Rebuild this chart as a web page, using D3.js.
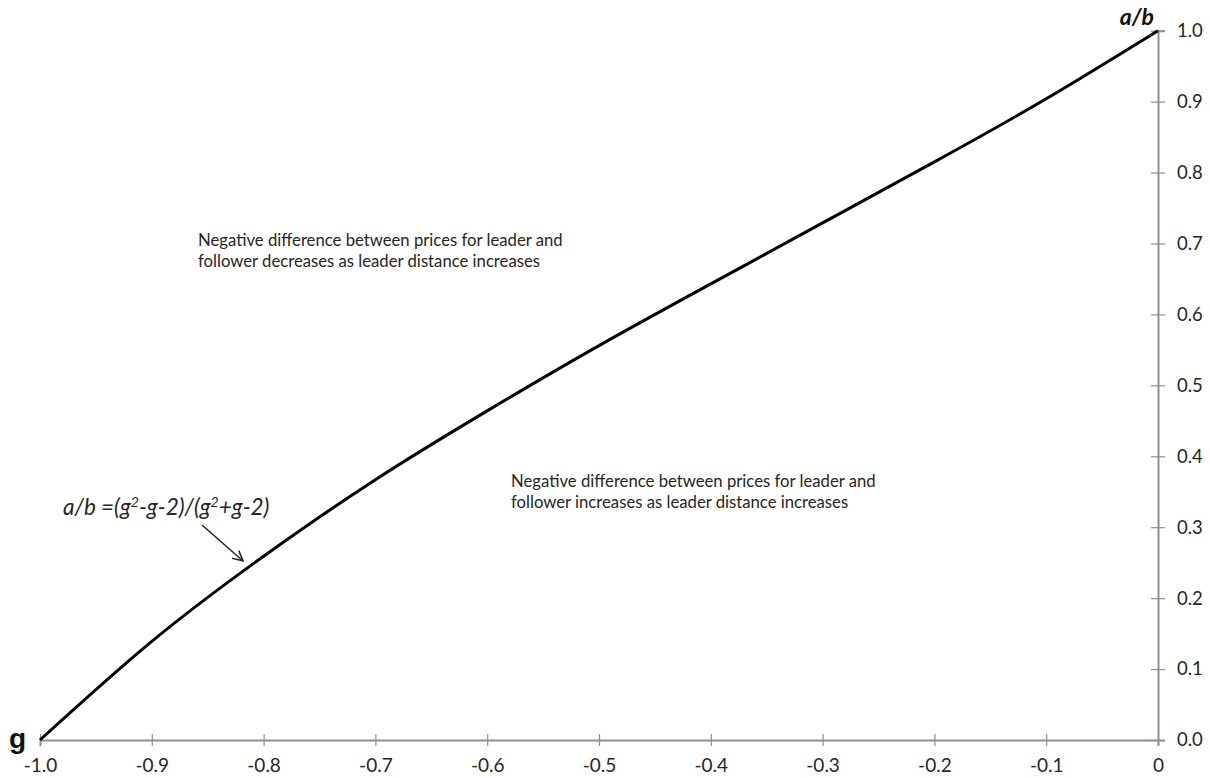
<!DOCTYPE html>
<html>
<head>
<meta charset="utf-8">
<script src="https://cdn.jsdelivr.net/npm/d3@7"></script>
<style>
  body { margin: 0; background: #fff; }
  svg { display: block; font-family: Lato, "Open Sans", sans-serif; }
</style>
</head>
<body>
<div id="chart"></div>
<script>
// values
const gValues = [-1.0, -0.9, -0.8, -0.7, -0.6, -0.5, -0.4, -0.3, -0.2, -0.1, 0];
const abValues = [0, 0.139, 0.259, 0.367, 0.464, 0.556, 0.643, 0.729, 0.815, 0.904, 1.0];
const xTicks = [-1.0, -0.9, -0.8, -0.7, -0.6, -0.5, -0.4, -0.3, -0.2, -0.1, 0];
const yTicks = [0, 0.1, 0.2, 0.3, 0.4, 0.5, 0.6, 0.7, 0.8, 0.9, 1.0];
const noteTop = ["Negative difference between prices for leader and", "follower decreases as leader distance increases"];
const noteBottom = ["Negative difference between prices for leader and", "follower increases as leader distance increases"];

const width = 1210, height = 778;
const data = gValues.map((g, i) => ({ g: g, ab: abValues[i] }));

const svg = d3.select("#chart").append("svg")
    .attr("width", width)
    .attr("height", height);

const x = d3.scaleLinear().domain([-1, 0]).range([40, 1158]);
const y = d3.scaleLinear().domain([0, 1]).range([740, 30.7]);

const axisColor = "#8f8f8f";
const textColor = "#262626";

// x axis
svg.append("g")
    .attr("transform", `translate(0,${y(0)})`)
    .call(d3.axisBottom(x).tickValues(xTicks).tickSize(6).tickPadding(13)
        .tickFormat(d => d === 0 ? "0" : d.toFixed(1)))
    .call(g => g.select(".domain").attr("stroke", axisColor).attr("stroke-width", 2))
    .call(g => g.selectAll(".tick line").attr("stroke", axisColor).attr("stroke-width", 1.2).attr("y1", -6).attr("y2", 6))
    .call(g => g.selectAll(".tick text").attr("fill", textColor).attr("font-size", 19).attr("font-family", "Lato, sans-serif"));

// y axis on the right
svg.append("g")
    .attr("transform", `translate(${x(0)},0)`)
    .call(d3.axisRight(y).tickValues(yTicks).tickSize(7).tickPadding(12)
        .tickFormat(d => d.toFixed(1)))
    .call(g => g.select(".domain").attr("stroke", axisColor).attr("stroke-width", 2))
    .call(g => g.selectAll(".tick line").attr("stroke", axisColor).attr("stroke-width", 1.2).attr("x1", -7).attr("x2", 7))
    .call(g => g.selectAll(".tick text").attr("fill", textColor).attr("font-size", 18.5).attr("font-family", "Lato, sans-serif"));

// the curve
const line = d3.line()
    .x(d => x(d.g))
    .y(d => y(d.ab))
    .curve(d3.curveNatural);

svg.append("path")
    .datum(data)
    .attr("fill", "none")
    .attr("stroke", "#000")
    .attr("stroke-width", 3)
    .attr("d", line);

// axis names
svg.append("text")
    .attr("x", 9).attr("y", 748)
    .attr("font-size", 28).attr("font-weight", "bold")
    .attr("font-family", "'Liberation Sans', sans-serif")
    .attr("fill", "#111")
    .text("g");

svg.append("text")
    .attr("x", x(0) - 4).attr("y", 25)
    .attr("text-anchor", "end")
    .attr("font-size", 23).attr("font-weight", "bold").attr("font-style", "italic")
    .attr("fill", "#111")
    .text("a/b");

// notes
function note(lines, left, top) {
    const t = svg.append("text")
        .attr("x", left).attr("y", top)
        .attr("font-size", 16.7)
        .attr("fill", textColor);
    lines.forEach((s, i) => t.append("tspan").attr("x", left).attr("dy", i === 0 ? 0 : 21).text(s));
}
note(noteTop, 198, 246);
note(noteBottom, 511, 487);

// formula label with arrow
const f = svg.append("text")
    .attr("x", 63).attr("y", 515)
    .attr("font-size", 22.5).attr("font-style", "italic")
    .attr("fill", textColor);
f.append("tspan").text("a/b =(g");
f.append("tspan").attr("font-size", 14).attr("dy", -8).text("2");
f.append("tspan").attr("dy", 8).text("-g-2)/(g");
f.append("tspan").attr("font-size", 14).attr("dy", -8).text("2");
f.append("tspan").attr("dy", 8).text("+g-2)");

svg.append("defs").append("marker")
    .attr("id", "arrow")
    .attr("viewBox", "0 0 12 12")
    .attr("refX", 11).attr("refY", 6)
    .attr("markerWidth", 12).attr("markerHeight", 12)
    .attr("markerUnits", "userSpaceOnUse")
    .attr("orient", "auto")
    .append("path")
    .attr("d", "M1,1 L11,6 L1,11")
    .attr("fill", "none")
    .attr("stroke", "#222")
    .attr("stroke-width", 1.5);

svg.append("line")
    .attr("x1", 202).attr("y1", 525)
    .attr("x2", 243).attr("y2", 561)
    .attr("stroke", "#222")
    .attr("stroke-width", 1.5)
    .attr("marker-end", "url(#arrow)");
</script>
</body>
</html>
